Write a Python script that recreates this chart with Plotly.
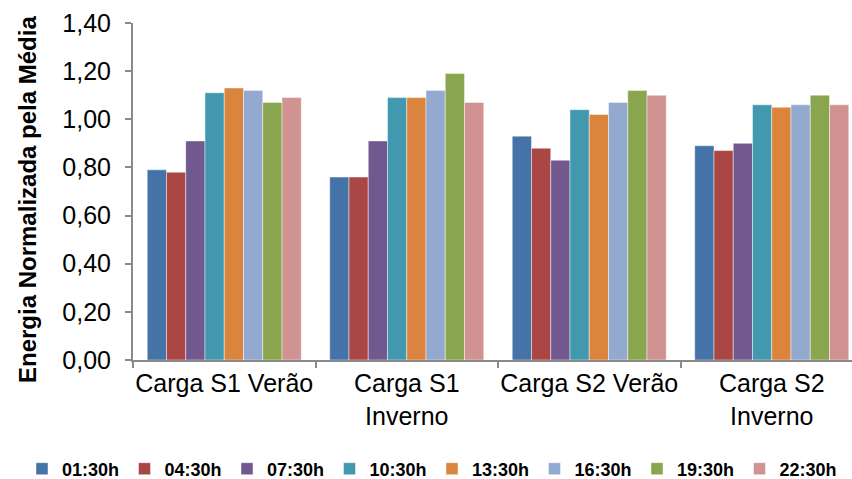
import plotly.graph_objects as go

# Load profiles (categories) and normalised energy per time of day
categories = ["Carga S1 Verão", "Carga S1<br>Inverno", "Carga S2 Verão", "Carga S2<br>Inverno"]

h0130 = [0.79, 0.76, 0.93, 0.89]
h0430 = [0.78, 0.76, 0.88, 0.87]
h0730 = [0.91, 0.91, 0.83, 0.90]
h1030 = [1.11, 1.09, 1.04, 1.06]
h1330 = [1.13, 1.09, 1.02, 1.05]
h1630 = [1.12, 1.12, 1.07, 1.06]
h1930 = [1.07, 1.19, 1.12, 1.10]
h2230 = [1.09, 1.07, 1.10, 1.06]

series = [
    ("01:30h", h0130, "#4572A7"),
    ("04:30h", h0430, "#AA4643"),
    ("07:30h", h0730, "#71588F"),
    ("10:30h", h1030, "#4198AF"),
    ("13:30h", h1330, "#DB843D"),
    ("16:30h", h1630, "#93A9CF"),
    ("19:30h", h1930, "#89A54E"),
    ("22:30h", h2230, "#D09392"),
]

y_ticks = [0.0, 0.2, 0.4, 0.6, 0.8, 1.0, 1.2, 1.4]
y_title = "Energia Normalizada pela Média"

W, H = 852, 479
ML, MT, MB = 133, 23, 119
plot_w, plot_h = W - ML, H - MT - MB

fig = go.Figure()
for name, vals, color in series:
    fig.add_trace(go.Bar(
        x=categories, y=vals, name=name,
        marker=dict(color=color, line=dict(color="rgba(255,255,255,0.45)", width=1)),
    ))

font_family = "Liberation Sans, Arial, sans-serif"
axis_grey = "#8a8a8a"

# rotated axis title placed as an annotation
fig.add_annotation(
    text=y_title, textangle=-90,
    xref="paper", yref="paper",
    x=(27 - ML) / plot_w, y=(H - MB - 200) / plot_h,
    xanchor="center", yanchor="middle", showarrow=False,
    font=dict(size=24, family=font_family, color="#000000", weight="bold"),
)

fig.update_layout(
    width=W, height=H,
    margin=dict(l=ML, r=0, t=MT, b=MB, autoexpand=False),
    barmode="group", bargap=0.156, bargroupgap=0,
    separators=",.",
    paper_bgcolor="white", plot_bgcolor="white",
    font=dict(family=font_family, color="#000000"),
    showlegend=True,
    legend=dict(
        orientation="h",
        xref="paper", x=(22 - ML) / plot_w, xanchor="left",
        yref="paper", y=-(469 - (H - MB)) / plot_h, yanchor="middle",
        font=dict(size=18, family=font_family, color="#000000", weight="bold"),
        entrywidth=57.5, entrywidthmode="pixels",
        itemwidth=30, tracegroupgap=0,
        bgcolor="rgba(0,0,0,0)",
    ),
    xaxis=dict(
        type="category",
        range=[-0.5, -0.5 + plot_w / 182.5],
        showline=True, linecolor=axis_grey, linewidth=2,
        ticks="outside", tickson="boundaries", ticklen=6, tickcolor=axis_grey, tickwidth=1.5,
        tickangle=0, automargin=False,
        tickfont=dict(size=25, family=font_family, color="#000000"),
        showgrid=False, zeroline=False,
    ),
    yaxis=dict(
        range=[0, 1.4],
        tickvals=y_ticks, tickformat=".2f",
        showline=True, linecolor=axis_grey, linewidth=2,
        ticks="outside", ticklen=6, tickcolor=axis_grey, tickwidth=1.5,
        ticklabelstandoff=9, automargin=False,
        tickfont=dict(size=25, family=font_family, color="#000000"),
        showgrid=False, zeroline=False,
    ),
)

fig.write_html("out.html")
